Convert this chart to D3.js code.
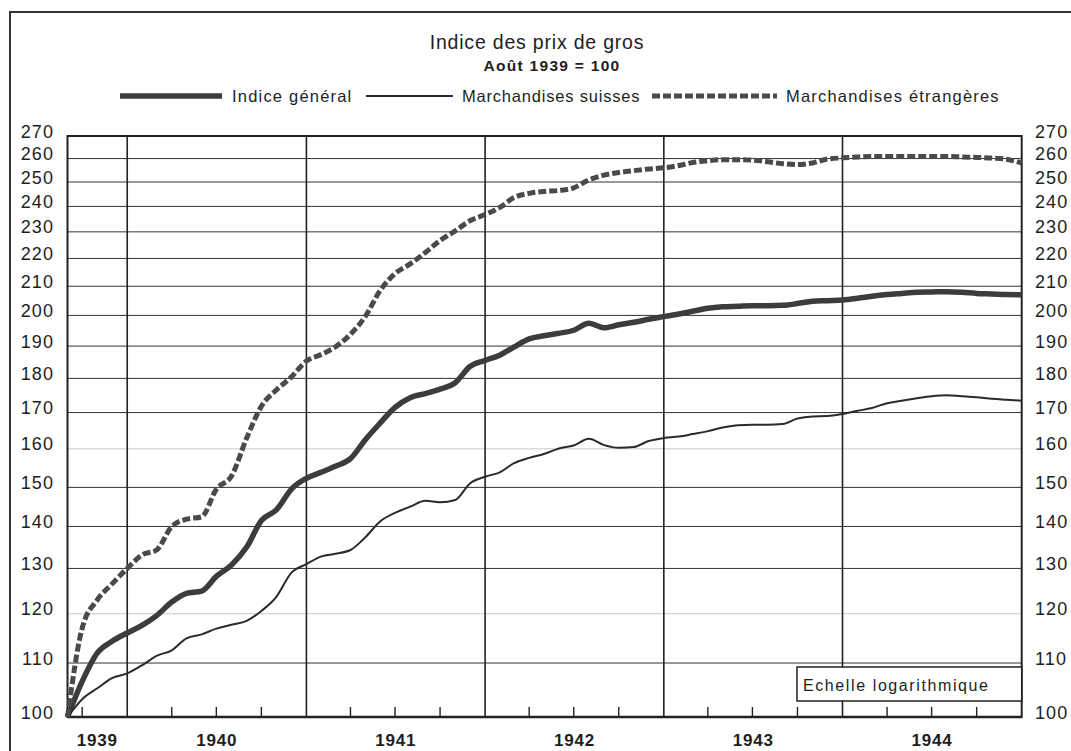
<!DOCTYPE html>
<html>
<head>
<meta charset="utf-8">
<script src="https://cdn.jsdelivr.net/npm/d3@7"></script>
<style>
  body { margin: 0; background: #fff; }
  text { font-family: 'Liberation Sans', Arial, sans-serif; fill: #1e1e1e; }
</style>
</head>
<body>
<div id="chart"></div>
<script>
// monthly values, Aug 1939 .. Dec 1944 (Aug 1939 = 100)
let general = [100, 106.5, 112, 114.3, 116, 117.6, 119.6, 122.5, 124.4, 124.9, 128.2, 130.8, 135,
  141.5, 144.2, 149.5, 152.3, 153.9, 155.4, 157.4, 162.4, 167.1, 171.5, 174.3, 175.5, 176.8, 178.7,
  183.6, 185.5, 187.2, 189.7, 192.3, 193.3, 194.1, 195.1, 197.4, 195.9, 196.9, 197.7, 198.7, 199.6,
  200.5, 201.4, 202.4, 202.9, 203.1, 203.3, 203.3, 203.4, 204.0, 204.8, 205, 205.2, 205.8, 206.5,
  207.1, 207.5, 207.9, 208, 208.1, 207.9, 207.5, 207.3, 207.1, 207]
let suisses = [100, 103.2, 105.2, 107.1, 108, 109.6, 111.4, 112.5, 114.9, 115.7, 116.9, 117.7, 118.5,
  120.6, 123.7, 129, 131, 132.8, 133.4, 134.3, 137.3, 141.3, 143.4, 145, 146.5, 146.1, 146.7,
  151, 152.7, 153.9, 156.2, 157.6, 158.6, 160.1, 160.9, 162.7, 161, 160.3, 160.5, 162.1, 162.9,
  163.3, 164, 164.8, 165.8, 166.4, 166.6, 166.6, 166.8, 168.3, 168.9, 169, 169.6, 170.5, 171.3,
  172.7, 173.4, 174.1, 174.7, 175, 174.7, 174.4, 174, 173.7, 173.4]
let etrangeres = [100, 117, 123, 126.5, 130, 133.2, 134.3, 140, 141.8, 142.4, 149.5, 152.9, 162.9,
  171.8, 176.6, 180.4, 185.3, 187.4, 189.7, 193.8, 199.6, 208.6, 214.5, 218, 222.2, 226.7, 230.4,
  234.3, 236.8, 239.7, 243.6, 245.3, 246.1, 246.5, 247.6, 250.9, 252.9, 254, 254.8, 255.5, 256,
  257, 258.3, 259.1, 259.5, 259.5, 259.3, 258.6, 257.8, 257.4, 258.1, 259.8, 260.3, 260.7, 260.9,
  260.9, 260.9, 260.9, 260.9, 260.9, 260.7, 260.5, 260.2, 259.7, 258.1]

let years = [1939, 1940, 1941, 1942, 1943, 1944]
let yTicks = [100, 110, 120, 130, 140, 150, 160, 170, 180, 190, 200, 210, 220, 230, 240, 250, 260, 270]
let legendNames = ['Indice général', 'Marchandises suisses', 'Marchandises étrangères']

// months Aug 1939 .. Dec 1944, each value drawn at the end of its month
let months = d3.timeMonth.range(new Date(1939, 7, 1), new Date(1945, 0, 1))

let width = 1071
let height = 751
let plotLeft = 67.5
let plotRight = 1021.7
let plotTop = 136
let plotBottom = 717

let svg = d3.select('#chart')
  .append('svg')
  .attr('width', width)
  .attr('height', height)

let x = d3.scaleTime()
  .domain([new Date(1939, 8, 1), new Date(1945, 0, 1)])
  .range([plotLeft, plotRight])

// logarithmic, the printed scale is a little stretched in the middle
let y = d3.scaleLog()
  .domain([100, 150, 270])
  .range([plotBottom, 487.4, plotTop])

let xm = (d, i) => x(d3.timeMonth.offset(months[i], 1))

// outer frame
svg.append('path')
  .attr('d', 'M10,751V12H1071')
  .attr('fill', 'none')
  .attr('stroke', '#333')
  .attr('stroke-width', 2)

// title
svg.append('text')
  .attr('x', 537)
  .attr('y', 49)
  .attr('text-anchor', 'middle')
  .style('font-size', '19.5px')
  .style('letter-spacing', '0.8px')
  .text('Indice des prix de gros')

svg.append('text')
  .attr('x', 552)
  .attr('y', 71)
  .attr('text-anchor', 'middle')
  .style('font-size', '15.5px')
  .style('font-weight', 'bold')
  .style('letter-spacing', '1.3px')
  .text('Août 1939 = 100')

// horizontal grid
svg.append('g')
  .selectAll('line')
  .data(yTicks)
  .enter()
  .append('line')
  .attr('x1', plotLeft)
  .attr('x2', plotRight)
  .attr('y1', d => y(d))
  .attr('y2', d => y(d))
  .attr('stroke', d => (d === 120 || d === 160) ? '#c8c8c8' : '#333')
  .attr('stroke-width', 1)

// year boundaries
svg.append('g')
  .selectAll('line')
  .data(years.slice(1))
  .enter()
  .append('line')
  .attr('x1', d => x(new Date(d, 0, 1)))
  .attr('x2', d => x(new Date(d, 0, 1)))
  .attr('y1', plotTop)
  .attr('y2', plotBottom)
  .attr('stroke', '#222')
  .attr('stroke-width', 1.6)

// quarter ticks
let quarters = d3.timeMonth.every(3).range(new Date(1939, 8, 1), new Date(1945, 0, 1))
  .filter(d => d.getMonth() !== 0)
svg.append('g')
  .selectAll('line')
  .data(quarters)
  .enter()
  .append('line')
  .attr('x1', d => x(d))
  .attr('x2', d => x(d))
  .attr('y1', plotBottom)
  .attr('y2', plotBottom - 10)
  .attr('stroke', '#222')
  .attr('stroke-width', 1.4)

// y labels, both sides
let yl = svg.append('g')
yl.selectAll('.yl-left')
  .data(yTicks)
  .enter()
  .append('text')
  .attr('class', 'yl-left')
  .attr('x', 54)
  .attr('y', d => y(d) + 1.5)
  .attr('text-anchor', 'end')
  .style('font-size', '18px')
  .style('letter-spacing', '1.1px')
  .text(d => d)
yl.selectAll('.yl-right')
  .data(yTicks)
  .enter()
  .append('text')
  .attr('class', 'yl-right')
  .attr('x', 1035)
  .attr('y', d => y(d) + 1.5)
  .style('font-size', '18px')
  .style('letter-spacing', '1.1px')
  .text(d => d)

// year labels
svg.append('g')
  .selectAll('text')
  .data(years)
  .enter()
  .append('text')
  .attr('x', d => {
    let a = d === 1939 ? plotLeft : x(new Date(d, 0, 1))
    return (a + x(new Date(d + 1, 0, 1))) / 2
  })
  .attr('y', 746)
  .attr('text-anchor', 'middle')
  .style('font-size', '17px')
  .style('font-weight', 'bold')
  .style('letter-spacing', '0.8px')
  .text(d => d)

// plot frame
svg.append('rect')
  .attr('x', plotLeft)
  .attr('y', plotTop)
  .attr('width', plotRight - plotLeft)
  .attr('height', plotBottom - plotTop)
  .attr('fill', 'none')
  .attr('stroke', '#222')
  .attr('stroke-width', 2)
svg.append('line')
  .attr('x1', plotLeft)
  .attr('x2', plotRight)
  .attr('y1', plotBottom)
  .attr('y2', plotBottom)
  .attr('stroke', '#222')
  .attr('stroke-width', 2.6)

// series
let line = d3.line()
  .x(xm)
  .y(d => y(d))
  .curve(d3.curveMonotoneX)

svg.append('path')
  .datum(general)
  .attr('d', line)
  .attr('fill', 'none')
  .attr('stroke', '#3c3c3c')
  .attr('stroke-width', 5.5)
  .attr('stroke-linejoin', 'round')

svg.append('path')
  .datum(suisses)
  .attr('d', line)
  .attr('fill', 'none')
  .attr('stroke', '#2a2a2a')
  .attr('stroke-width', 2)
  .attr('stroke-linejoin', 'round')

svg.append('path')
  .datum(etrangeres)
  .attr('d', line)
  .attr('fill', 'none')
  .attr('stroke', '#4a4a4a')
  .attr('stroke-width', 5)
  .attr('stroke-dasharray', '8,3')

// scale note
let note = svg.append('g')
note.append('rect')
  .attr('x', 797)
  .attr('y', 667)
  .attr('width', plotRight - 797)
  .attr('height', 34)
  .attr('fill', '#fff')
  .attr('stroke', '#222')
  .attr('stroke-width', 1.5)
note.append('text')
  .attr('x', 803)
  .attr('y', 691)
  .style('font-size', '16px')
  .style('letter-spacing', '1.6px')
  .text('Echelle logarithmique')

// legend
let legend = svg.append('g')
let samples = [
  { x1: 120, x2: 222, tx: 232, w: 5.5, dash: null, c: '#3c3c3c' },
  { x1: 366, x2: 453, tx: 462, w: 2, dash: null, c: '#2a2a2a' },
  { x1: 652, x2: 777, tx: 786, w: 5, dash: '8,3', c: '#4a4a4a' }
]
samples.forEach((s, i) => {
  legend.append('line')
    .attr('x1', s.x1)
    .attr('x2', s.x2)
    .attr('y1', 96)
    .attr('y2', 96)
    .attr('stroke', s.c)
    .attr('stroke-width', s.w)
    .attr('stroke-dasharray', s.dash)
  legend.append('text')
    .attr('x', s.tx)
    .attr('y', 101.5)
    .style('font-size', '16.5px')
    .style('letter-spacing', i === 1 ? '0.8px' : '1.2px')
    .text(legendNames[i])
})
</script>
</body>
</html>
